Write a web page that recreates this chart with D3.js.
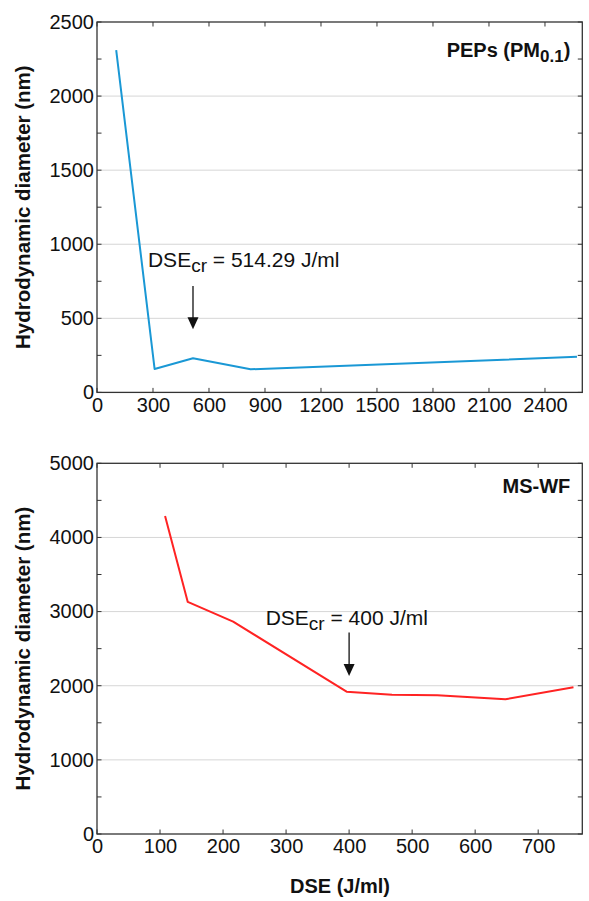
<!DOCTYPE html>
<html>
<head>
<meta charset="utf-8">
<script src="https://cdnjs.cloudflare.com/ajax/libs/d3/7.8.5/d3.min.js"></script>
<style>
  html, body { margin: 0; padding: 0; background: #fff; }
  svg { display: block; font-family: "Liberation Sans", Arial, Helvetica, sans-serif; }
</style>
</head>
<body>
<svg id="chart" width="589" height="901"></svg>
<script>
// ---------- Data ----------
// Panel A: PEPs (PM0.1)
const pepsDSE = [102.86, 308.57, 514.29, 822.86, 2571.43];
const pepsDiameter = [2310, 158, 230, 156, 240];
const pepsXTicks = [0, 300, 600, 900, 1200, 1500, 1800, 2100, 2400];
const pepsYTicks = [0, 500, 1000, 1500, 2000, 2500];
const pepsCritical = 514.29;

// Panel B: MS-WF
const mswfDSE = [108, 144, 216, 396, 468, 540, 648, 756];
const mswfDiameter = [4290, 3130, 2865, 1920, 1878, 1872, 1818, 1980];
const mswfXTicks = [0, 100, 200, 300, 400, 500, 600, 700];
const mswfYTicks = [0, 1000, 2000, 3000, 4000, 5000];
const mswfCritical = 400;

// ---------- Drawing ----------
const svg = d3.select("#chart");
const axisColor = "#333";
const gridColor = "#d6d6d6";

function panel(opts) {
  const { top, bottom, left, right, xDomain, yDomain, xTicks, yTicks, xData, yData,
          color, label, labelSub, crit, critText, arrowFrom, arrowTo, textX, textY } = opts;
  const x = d3.scaleLinear().domain(xDomain).range([left, right]);
  const y = d3.scaleLinear().domain(yDomain).range([bottom, top]);
  const g = svg.append("g");

  // gridlines
  g.append("g").selectAll("line").data(yTicks.filter(v => v > yDomain[0] && v < yDomain[1]))
    .join("line")
    .attr("x1", left).attr("x2", right)
    .attr("y1", d => y(d)).attr("y2", d => y(d))
    .attr("stroke", gridColor).attr("stroke-width", 1);

  const step = yTicks[1] - yTicks[0];
  const minor = d3.range(yDomain[0], yDomain[1] + 1e-9, step / 2);

  // axes with inward ticks
  const fmt = d3.format("d");
  const axL = g.append("g").attr("transform", `translate(${left},0)`)
    .call(d3.axisLeft(y).tickValues(yTicks).tickFormat(fmt).tickSize(0).tickPadding(3));
  const axB = g.append("g").attr("transform", `translate(0,${bottom})`)
    .call(d3.axisBottom(x).tickValues(xTicks).tickFormat(fmt).tickSize(0).tickPadding(5));
  [axL, axB].forEach(a => {
    a.select(".domain").remove();
    a.selectAll("text").attr("font-size", 20).attr("fill", "#111")
      .attr("font-family", '"Liberation Sans", Arial, sans-serif');
  });

  // inward tick marks
  const tk = 4.5;
  const tg = g.append("g").attr("stroke", axisColor).attr("stroke-width", 1);
  tg.selectAll(".ty").data(minor).join("line")
    .attr("x1", left).attr("x2", left + tk).attr("y1", d => y(d)).attr("y2", d => y(d));
  tg.selectAll(".tyr").data(minor).join("line")
    .attr("x1", right).attr("x2", right - tk).attr("y1", d => y(d)).attr("y2", d => y(d));
  tg.selectAll(".tx").data(xTicks).join("line")
    .attr("x1", d => x(d)).attr("x2", d => x(d)).attr("y1", bottom).attr("y2", bottom - tk);
  tg.selectAll(".txt").data(xTicks).join("line")
    .attr("x1", d => x(d)).attr("x2", d => x(d)).attr("y1", top).attr("y2", top + tk);

  // frame
  g.append("rect").attr("x", left).attr("y", top)
    .attr("width", right - left).attr("height", bottom - top)
    .attr("fill", "none").attr("stroke", axisColor).attr("stroke-width", 1.3);

  // data line
  const pts = xData.map((d, i) => [d, yData[i]]);
  g.append("path").datum(pts)
    .attr("d", d3.line().x(d => x(d[0])).y(d => y(d[1])))
    .attr("fill", "none").attr("stroke", color).attr("stroke-width", 2)
    .attr("stroke-linejoin", "round");

  // panel label
  const lt = g.append("text").attr("x", right - 12).attr("y", opts.labelY)
    .attr("text-anchor", "end").attr("font-weight", "bold").attr("font-size", 20).attr("fill", "#111");
  lt.append("tspan").text(label);
  if (labelSub) {
    lt.append("tspan").attr("font-size", 17).attr("dy", 5).text(labelSub[0]);
    lt.append("tspan").attr("dy", -5).text(labelSub[1]);
  }

  // annotation text
  const at = g.append("text").attr("x", x(textX)).attr("y", y(textY))
    .attr("font-size", 21).attr("fill", "#111");
  at.append("tspan").text("DSE");
  at.append("tspan").attr("font-size", 19).attr("dy", 5).text("cr");
  at.append("tspan").attr("dy", -5).text(critText);

  // arrow
  const ax = x(crit), y0 = y(arrowFrom), y1 = y(arrowTo);
  g.append("line").attr("x1", ax).attr("x2", ax).attr("y1", y0).attr("y2", y1 - 10)
    .attr("stroke", "#111").attr("stroke-width", 1.3);
  g.append("path")
    .attr("d", `M${ax - 5.5},${y1 - 12} L${ax + 5.5},${y1 - 12} L${ax},${y1} Z`)
    .attr("fill", "#111");

  return { x, y };
}

panel({
  top: 22, bottom: 392.4, left: 97, right: 582.3,
  xDomain: [0, 2600], yDomain: [0, 2500],
  xTicks: pepsXTicks, yTicks: pepsYTicks,
  xData: pepsDSE, yData: pepsDiameter,
  color: "#1a98d5",
  label: "PEPs (PM", labelSub: ["0.1", ")"], labelY: 57,
  crit: pepsCritical, critText: " = 514.29 J/ml",
  arrowFrom: 718, arrowTo: 426, textX: 273, textY: 848
});

panel({
  top: 463.3, bottom: 834, left: 97, right: 582.3,
  xDomain: [0, 770], yDomain: [0, 5000],
  xTicks: mswfXTicks, yTicks: mswfYTicks,
  xData: mswfDSE, yData: mswfDiameter,
  color: "#ff2323",
  label: "MS-WF", labelSub: null, labelY: 493,
  crit: mswfCritical, critText: " = 400 J/ml",
  arrowFrom: 2717, arrowTo: 2132, textX: 267.6, textY: 2820
});

// axis titles
[207.2, 648.6].forEach(cy => {
  svg.append("text")
    .attr("transform", `translate(30,${cy}) rotate(-90)`)
    .attr("text-anchor", "middle").attr("font-weight", "bold").attr("font-size", 20.5)
    .attr("fill", "#111")
    .text("Hydrodynamic diameter (nm)");
});
svg.append("text").attr("x", 340).attr("y", 893)
  .attr("text-anchor", "middle").attr("font-weight", "bold").attr("font-size", 20)
  .attr("fill", "#111").text("DSE (J/ml)");
</script>
</body>
</html>
